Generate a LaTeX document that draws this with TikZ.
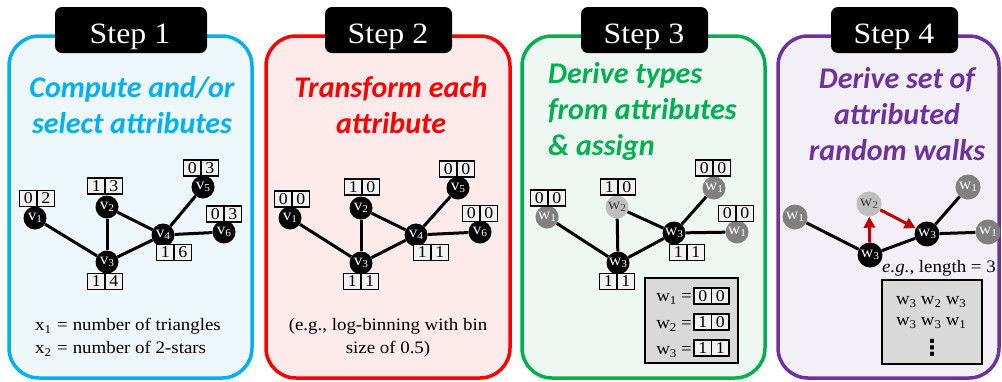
\documentclass[tikz,border=0pt]{standalone}
\usepackage{fontspec}
\usetikzlibrary{arrows.meta}
\newfontfamily\ttlfont{Carlito}
\newfontfamily\srffont{Liberation Serif}[FakeStretch=1.08]
\newfontfamily\symfont{DejaVu Sans}
\definecolor{cblue}{HTML}{00B0F0}
\definecolor{cbluebg}{HTML}{EDF7FC}
\definecolor{cred}{HTML}{FF0000}
\definecolor{credbg}{HTML}{FDEBEC}
\definecolor{cgreen}{HTML}{00B050}
\definecolor{cgreenbg}{HTML}{EEF7F2}
\definecolor{cpurple}{HTML}{7030A0}
\definecolor{cpurplebg}{HTML}{F2EFF7}
\definecolor{darkred}{HTML}{C00000}
\definecolor{cellfill}{HTML}{F2F2F2}
\definecolor{gmid}{HTML}{808080}
\definecolor{glight}{HTML}{BFBFBF}
\definecolor{gtext}{HTML}{404040}
\definecolor{legfill}{HTML}{D9D9D9}
\newcommand\vl[2]{#1\raisebox{-2.5pt}{\fontsize{10.5}{10.5}\selectfont #2}}
\newcommand\bvl[2]{#1\raisebox{-3pt}{\fontsize{12}{12}\selectfont #2}}
\newcommand\cellpair[5]{%
  \node[cell, anchor=east] (#1a) at (#2,#3) {#4};
  \node[cell, anchor=west] (#1b) at (#2,#3) {#5};}
\tikzset{
  panel/.style={line width=3.5pt, rounded corners=30pt},
  stepbg/.style={fill=black, rounded corners=7pt},
  steptext/.style={anchor=base, text=white, inner sep=0pt, font=\srffont\fontsize{29.5}{29.5}\selectfont},
  ttl/.style={anchor=base, inner sep=0pt, font=\ttlfont\bfseries\itshape\fontsize{30}{30}\selectfont},
  body/.style={anchor=base, inner sep=0pt, font=\srffont\fontsize{17.5}{17.5}\selectfont},
  cell/.style={draw, line width=1.2pt, fill=cellfill, minimum width=17.5pt, minimum height=16pt,
    inner sep=0pt, outer sep=0pt, font=\srffont\fontsize{16.5}{16.5}\selectfont},
  vn/.style={circle, fill=black, minimum size=23pt, inner sep=0pt, text=white,
    font=\srffont\fontsize{16}{16}\selectfont},
  wblack/.style={vn, minimum size=25pt},
  wmid/.style={vn, fill=gmid, minimum size=25pt},
  wlight/.style={vn, fill=glight, text=gtext, minimum size=25pt},
  edge/.style={line width=3pt},
  redarr/.style={line width=3pt, draw=darkred, -{Triangle[length=11pt,width=11pt]}},
  graybox/.style={draw, line width=1.5pt, fill=legfill, inner sep=0pt},
}
\begin{document}
\begin{tikzpicture}[x=1pt,y=-1pt]
\useasboundingbox (0,0) rectangle (1002,381);
% ---------- panels
\draw[panel, draw=cblue, fill=cbluebg] (9,36) rectangle (252,378);
\draw[panel, draw=cred, fill=credbg] (266,36) rectangle (510,378);
\draw[panel, draw=cgreen, fill=cgreenbg] (522,36) rectangle (765,378);
\draw[panel, draw=cpurple, fill=cpurplebg] (778,36) rectangle (999,378);
% ---------- step labels
\fill[stepbg] (55,7) rectangle (207,53);
\node[steptext] (s1) at (130,43) {Step 1};
\fill[stepbg] (325,7) rectangle (452,53);
\node[steptext] (s2) at (388,43) {Step 2};
\fill[stepbg] (581,7) rectangle (708,53);
\node[steptext] (s3) at (644,43) {Step 3};
\fill[stepbg] (831,7) rectangle (958,53);
\node[steptext] (s4) at (894,43) {Step 4};
% ---------- titles
\node[ttl, text=cblue] (t1a) at (132,97) {Compute and/or};
\node[ttl, text=cblue] (t1b) at (132,133) {select attributes};
\node[ttl, text=cred] (t2a) at (391,97) {Transform each};
\node[ttl, text=cred] (t2b) at (391,133) {attribute};
\node[ttl, text=cgreen, anchor=base west] (t3a) at (548,83) {Derive types};
\node[ttl, text=cgreen, anchor=base west] (t3b) at (548,119) {from attributes};
\node[ttl, text=cgreen, anchor=base west] (t3c) at (548,155) {\& assign};
\node[ttl, text=cpurple] (t4a) at (897,88) {Derive set of};
\node[ttl, text=cpurple] (t4b) at (897,124) {attributed};
\node[ttl, text=cpurple] (t4c) at (897,160) {random walks};
% ---------- panel 1 graph
\node[vn] (p1v1) at (35,218) {\vl{v}{1}};
\node[vn] (p1v2) at (107,207) {\vl{v}{2}};
\node[vn] (p1v3) at (107,262) {\vl{v}{3}};
\node[vn] (p1v4) at (163,235) {\vl{v}{4}};
\node[vn] (p1v5) at (203,187) {\vl{v}{5}};
\node[vn] (p1v6) at (224,232) {\vl{v}{6}};
\draw[edge] (p1v1) -- (p1v3);
\draw[edge] (p1v2) -- (p1v3);
\draw[edge] (p1v2) -- (p1v4);
\draw[edge] (p1v3) -- (p1v4);
\draw[edge] (p1v4) -- (p1v5);
\draw[edge] (p1v4) -- (p1v6);
\cellpair{p1c1}{37}{198.5}{0}{2}
\cellpair{p1c2}{105}{186}{1}{3}
\cellpair{p1c3}{105}{281.5}{1}{4}
\cellpair{p1c4}{174}{252.5}{1}{6}
\cellpair{p1c5}{201}{168}{0}{3}
\cellpair{p1c6}{224}{214}{0}{3}
\node[body, anchor=base west] (p1x1) at (35,330) {\bvl{x}{1}\hspace{6pt}=\hspace{5pt}number of triangles};
\node[body, anchor=base west] (p1x2) at (35,353) {\bvl{x}{2}\hspace{6pt}=\hspace{5pt}number of 2-stars};
% ---------- panel 2 graph
\node[vn] (p2v1) at (290,218) {\vl{v}{1}};
\node[vn] (p2v2) at (361,208) {\vl{v}{2}};
\node[vn] (p2v3) at (361,263) {\vl{v}{3}};
\node[vn] (p2v4) at (416,235) {\vl{v}{4}};
\node[vn] (p2v5) at (458,188) {\vl{v}{5}};
\node[vn] (p2v6) at (480,232) {\vl{v}{6}};
\draw[edge] (p2v1) -- (p2v3);
\draw[edge] (p2v2) -- (p2v3);
\draw[edge] (p2v2) -- (p2v4);
\draw[edge] (p2v3) -- (p2v4);
\draw[edge] (p2v4) -- (p2v5);
\draw[edge] (p2v4) -- (p2v6);
\cellpair{p2c1}{292}{199}{0}{0}
\cellpair{p2c2}{362}{187}{1}{0}
\cellpair{p2c3}{361}{281.5}{1}{1}
\cellpair{p2c4}{431}{252.5}{1}{1}
\cellpair{p2c5}{457}{169}{0}{0}
\cellpair{p2c6}{480}{213.5}{0}{0}
\node[body] (p2n1) at (388,330) {(e.g., log-binning with bin};
\node[body] (p2n2) at (388,353) {size of 0.5)};
% ---------- panel 3 graph
\node[wmid, minimum size=23pt] (p3a) at (547,217) {\vl{w}{1}};
\node[wlight, minimum size=23pt] (p3b) at (617,207) {\vl{w}{2}};
\node[wblack, minimum size=23pt] (p3c) at (618,263) {\vl{w}{3}};
\node[wblack, minimum size=23pt] (p3d) at (674,233) {\vl{w}{3}};
\node[wmid, minimum size=23pt] (p3e) at (714,188) {\vl{w}{1}};
\node[wmid, minimum size=23pt] (p3f) at (737,232) {\vl{w}{1}};
\draw[edge] (p3a) -- (p3c);
\draw[edge] (p3b) -- (p3c);
\draw[edge] (p3b) -- (p3d);
\draw[edge] (p3c) -- (p3d);
\draw[edge] (p3d) -- (p3e);
\draw[edge] (p3d) -- (p3f);
\cellpair{p3ca}{548}{198}{0}{0}
\cellpair{p3cb}{618}{187}{1}{0}
\cellpair{p3cc}{617}{281.5}{1}{1}
\cellpair{p3cd}{687}{252.5}{1}{1}
\cellpair{p3ce}{713}{168}{0}{0}
\cellpair{p3cf}{736}{213.5}{0}{0}
\node[graybox, minimum width=93pt, minimum height=85pt] (leg) at (691.5,320.5) {};
\node[body, anchor=base east] (l1) at (692,301) {\bvl{w}{1} =};
\node[body, anchor=base east] (l2) at (692,328) {\bvl{w}{2} =};
\node[body, anchor=base east] (l3) at (692,354) {\bvl{w}{3} =};
\cellpair{l1c}{711.5}{296}{0}{0}
\cellpair{l2c}{711.5}{322}{1}{0}
\cellpair{l3c}{711.5}{348}{1}{1}
% ---------- panel 4 graph
\node[wmid] (p4a) at (795,217) {\vl{w}{1}};
\node[wlight] (p4b) at (869,204) {\vl{w}{2}};
\node[wblack] (p4c) at (870,255) {\vl{w}{3}};
\node[wblack] (p4d) at (927,234) {\vl{w}{3}};
\node[wmid] (p4e) at (968,187) {\vl{w}{1}};
\node[wmid] (p4f) at (988,232) {\vl{w}{1}};
\draw[edge] (p4a) -- (p4c);
\draw[edge] (p4c) -- (p4d);
\draw[edge] (p4d) -- (p4e);
\draw[edge] (p4d) -- (p4f);
\draw[redarr] (p4c) -- (p4b);
\draw[redarr] (p4b) -- (p4d);
\node[body, anchor=base] (eg) at (939,272) {\textit{e.g.,} length = 3};
\node[graybox, minimum width=100pt, minimum height=84pt] (walks) at (932,322) {};
\node[body] (wk1) at (931,304) {\bvl{w}{3} \bvl{w}{2} \bvl{w}{3}};
\node[body] (wk2) at (931,325) {\bvl{w}{3} \bvl{w}{3} \bvl{w}{1}};
\node[inner sep=0pt, font=\symfont\bfseries\fontsize{22}{22}\selectfont] (wk3) at (932,348) {⋮};
\end{tikzpicture}
\end{document}
